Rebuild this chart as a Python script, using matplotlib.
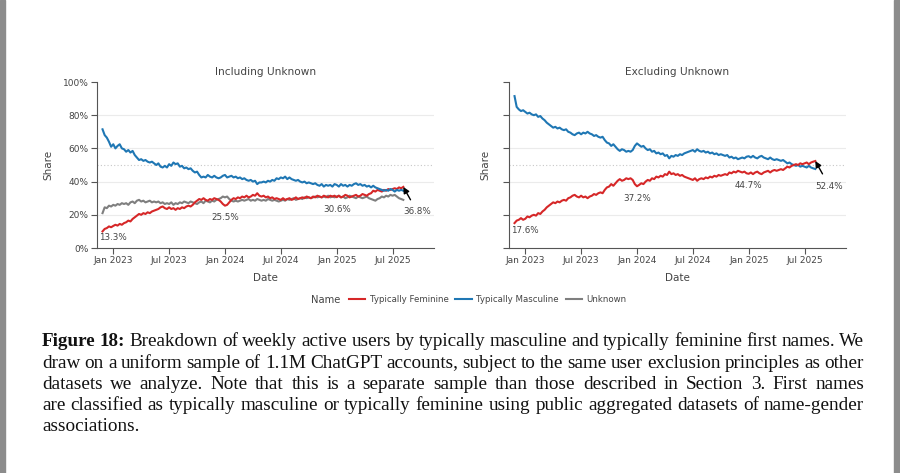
import matplotlib
matplotlib.use("Agg")
import matplotlib.pyplot as plt
import pandas as pd
from matplotlib.lines import Line2D
from matplotlib.patches import Rectangle

# ---------------- data ----------------
start_date = "2022-11-28"
n_weeks = 141

incl_feminine = [
    10.0, 11.5, 12.0, 13.0, 12.5, 13.3, 14.0, 13.5, 14.5, 14.0,
    15.0, 15.5, 16.5, 16.0, 17.5, 18.5, 19.5, 20.5, 20.0, 21.0,
    20.5, 21.5, 21.0, 22.0, 22.5, 23.0, 23.5, 24.5, 25.0, 24.0,
    23.5, 24.5, 23.5, 24.0, 23.0, 24.0, 23.5, 24.5, 24.0, 25.0,
    25.5, 25.0, 26.0, 27.5, 28.5, 29.5, 29.0, 30.0, 29.0, 28.5,
    29.5, 29.0, 30.0, 29.5, 29.0, 28.0, 26.5, 25.5, 26.0, 27.5,
    29.0, 30.0, 29.5, 30.5, 30.0, 31.0, 30.5, 31.5, 30.5, 31.0,
    32.0, 31.5, 33.0, 31.5, 31.0, 31.5, 30.5, 31.0, 30.0, 30.5,
    29.5, 30.0, 29.5, 29.0, 30.0, 29.0, 29.5, 30.0, 29.0, 29.5,
    30.5, 29.5, 30.0, 30.5, 30.0, 31.0, 30.5, 30.0, 31.0, 30.5,
    31.5, 31.0, 30.5, 31.5, 31.0, 30.5, 31.5, 31.0, 31.5, 30.6,
    31.5, 30.5, 31.0, 32.0, 31.5, 30.5, 31.0, 31.5, 32.0, 31.0,
    31.5, 32.5, 32.0, 31.5, 32.5, 33.0, 34.5, 34.0, 35.0, 34.5,
    34.0, 35.0, 34.5, 35.5, 35.0, 35.5, 36.0, 35.5, 36.5, 36.0,
    36.8,
]
incl_masculine = [
    71.5, 68.0, 66.5, 64.0, 61.0, 62.5, 60.0, 61.5, 62.5, 60.0,
    59.5, 58.0, 59.0, 57.5, 58.5, 56.0, 54.5, 53.0, 53.5, 52.5,
    53.0, 52.0, 51.5, 52.0, 51.0, 50.0, 51.0, 49.0, 48.5, 49.5,
    48.5, 50.5, 49.5, 51.5, 50.5, 51.0, 49.0, 49.5, 48.0, 48.5,
    47.5, 48.0, 46.5, 45.5, 46.0, 44.0, 42.5, 43.0, 42.5, 44.0,
    43.0, 42.5, 43.5, 42.5, 42.0, 42.5, 43.5, 44.0, 42.5, 43.0,
    43.5, 42.5, 43.0, 42.0, 42.5, 41.5, 42.0, 41.0, 40.5, 41.0,
    40.0, 40.5, 38.5, 39.5, 39.5, 40.0, 39.5, 40.5, 40.0, 41.0,
    40.5, 42.0, 41.5, 42.5, 42.0, 43.0, 41.5, 42.5, 41.5, 41.0,
    40.5, 41.0, 40.0, 39.5, 40.0, 39.0, 39.5, 39.0, 38.5, 39.0,
    38.0, 37.5, 38.5, 37.0, 38.0, 37.5, 38.0, 37.0, 38.5, 38.0,
    37.0, 38.5, 37.5, 38.0, 37.0, 38.0, 37.5, 38.5, 39.0, 38.0,
    38.5, 37.5, 38.0, 37.0, 37.5, 36.5, 37.5, 36.5, 36.0, 35.5,
    35.0, 34.5, 35.0, 34.5, 35.5, 35.0, 34.0, 35.0, 34.5, 35.0,
    34.5,
]
incl_unknown = [
    21.0, 24.5, 24.0, 25.5, 25.0, 26.0, 25.5, 26.5, 26.0, 27.0,
    26.5, 27.0, 26.0, 27.5, 28.0, 27.0, 28.5, 29.0, 28.0, 28.5,
    27.5, 28.0, 28.5, 27.5, 28.0, 27.5, 28.0, 27.0, 27.5, 26.5,
    27.0, 26.5, 27.5, 26.0, 27.0, 26.5, 27.5, 27.0, 28.0, 27.5,
    27.0, 28.0, 27.5, 27.0, 26.5, 27.5, 28.0, 27.0, 28.5, 28.0,
    27.5, 28.5, 28.0, 29.0, 29.5, 30.0, 31.0, 30.5, 31.0, 29.5,
    28.5, 28.0, 28.5, 28.0, 28.5, 29.0, 28.5, 29.0, 29.5, 28.5,
    29.0, 28.5, 29.5, 29.0, 28.5, 29.0, 28.5, 29.5, 29.0, 28.5,
    29.0, 28.5, 28.0, 28.5, 29.0, 28.5, 29.5, 29.0, 29.5, 30.0,
    29.0, 29.5, 30.0, 29.5, 30.5, 30.0, 30.5, 30.0, 30.5, 31.0,
    30.5, 31.0, 30.5, 31.0, 30.5, 31.5, 30.5, 31.0, 30.5, 31.0,
    31.5, 30.5, 31.0, 30.0, 30.5, 31.5, 31.0, 30.5, 30.0, 31.0,
    30.5, 30.0, 30.5, 31.0, 30.0, 29.5, 29.0, 28.5, 29.5, 30.0,
    31.0, 30.5, 31.5, 31.0, 32.0, 31.5, 32.0, 31.0, 30.0, 29.5,
    29.0,
]
excl_feminine = [
    15.0, 16.5, 17.0, 18.0, 17.0, 17.6, 19.0, 18.5, 19.5, 20.0,
    19.5, 21.0, 20.5, 22.0, 23.0, 24.5, 25.5, 26.5, 27.5, 27.0,
    28.0, 27.5, 28.5, 29.0, 28.5, 30.0, 30.5, 31.5, 32.0, 31.0,
    30.5, 31.5, 30.5, 31.0, 30.0, 31.0, 31.5, 32.5, 32.0, 33.0,
    33.5, 33.0, 35.0, 36.5, 37.0, 38.5, 37.5, 39.0, 40.5, 41.5,
    40.5, 41.0, 42.0, 41.5, 42.0, 41.0, 38.5, 37.2, 38.0, 39.0,
    38.5, 40.0, 41.0, 40.5, 42.0, 41.5, 43.0, 42.5, 43.5, 43.0,
    44.5, 44.0, 46.0, 44.5, 45.0, 44.0, 44.5, 43.5, 44.0, 43.0,
    42.5, 42.0, 41.5, 41.0, 42.0, 40.5, 41.5, 42.0, 41.5, 42.5,
    42.0, 43.0, 42.5, 43.5, 43.0, 44.0, 43.5, 44.0, 44.5, 44.0,
    45.5, 45.0, 46.0, 45.5, 46.5, 46.0, 45.5, 46.0, 45.0, 44.7,
    45.5, 44.5, 45.5, 46.0, 45.0, 44.5, 45.5, 46.0, 46.5, 45.5,
    46.5, 47.0, 46.5, 47.0, 47.5, 47.0, 48.0, 49.0, 48.5, 49.5,
    50.0, 50.5, 50.0, 51.0, 50.5, 51.0, 51.5, 50.5, 51.5, 52.0,
    52.4,
]
excl_masculine = [
    91.5, 85.0, 83.5, 82.5, 83.0, 82.0, 81.0, 81.5, 80.5, 80.0,
    80.5, 79.0, 79.5, 78.0, 77.0, 75.5, 74.5, 73.5, 72.5, 73.0,
    72.0, 72.5, 71.5, 71.0, 71.5, 70.0, 69.5, 68.5, 68.0, 69.0,
    69.5, 68.5, 69.5, 69.0, 70.0, 69.0, 68.5, 67.5, 68.0, 67.0,
    66.5, 67.0, 65.0, 63.5, 63.0, 61.5, 62.5, 61.0, 59.5, 58.5,
    59.5, 59.0, 58.0, 58.5, 58.0, 59.0, 61.5, 63.0, 62.0, 61.0,
    61.5, 60.0, 59.0, 59.5, 58.0, 58.5, 57.0, 57.5, 56.5, 57.0,
    55.5, 56.0, 54.0, 55.5, 55.0, 56.0, 55.5, 56.5, 56.0, 57.0,
    57.5, 58.0, 58.5, 59.0, 58.0, 59.5, 58.5, 58.0, 58.5, 57.5,
    58.0, 57.0, 57.5, 56.5, 57.0, 56.0, 56.5, 56.0, 55.5, 56.0,
    54.5, 55.0, 54.0, 54.5, 53.5, 54.0, 54.5, 54.0, 55.0, 55.3,
    54.5, 55.5, 54.5, 54.0, 55.0, 55.5, 54.5, 54.0, 53.5, 54.5,
    53.5, 53.0, 53.5, 53.0, 52.5, 53.0, 52.0, 51.0, 51.5, 50.5,
    50.0, 49.5, 50.0, 49.0, 49.5, 49.0, 48.5, 49.5, 48.5, 48.0,
    47.6,
]
label_idx = [5, 57, 109]  # labelled points (Jan of each year), plus last point with arrow

series_names = ["Typically Feminine", "Typically Masculine", "Unknown"]
panel_titles = ["Including Unknown", "Excluding Unknown"]
x_tick_labels = ["Jan 2023", "Jul 2023", "Jan 2024", "Jul 2024", "Jan 2025", "Jul 2025"]
x_tick_dates = ["2023-01-01", "2023-07-01", "2024-01-01", "2024-07-01", "2025-01-01", "2025-07-01"]
y_ticks = [0, 20, 40, 60, 80, 100]
y_tick_labels = ["0%", "20%", "40%", "60%", "80%", "100%"]

caption_lines = [
    "Breakdown of weekly active users by typically masculine and typically feminine first names. We",
    "draw on a uniform sample of 1.1M ChatGPT accounts, subject to the same user exclusion principles as other",
    "datasets we analyze.  Note that this is a separate sample than those described in Section 3.  First names",
    "are classified as typically masculine or typically feminine using public aggregated datasets of name-gender",
    "associations.",
]
caption_bold = "Figure 18:"

# ---------------- style ----------------
RED, BLUE, GRAY = "#d62728", "#1f77b4", "#7f7f7f"
TXT = "#444444"
W, H = 900, 473

dates = pd.date_range(start_date, periods=n_weeks, freq="7D")

fig = plt.figure(figsize=(W / 100, H / 100), dpi=100)
fig.patch.set_facecolor("white")

def px_axes(x0, x1, ytop, ybot):
    return [x0 / W, 1 - ybot / H, (x1 - x0) / W, (ybot - ytop) / H]

axL = fig.add_axes(px_axes(97, 434, 82, 248))
axR = fig.add_axes(px_axes(509, 846, 82, 248))

xmin, xmax = pd.Timestamp("2022-11-10"), pd.Timestamp("2025-11-12")

for ax, title, show_ylabels, ylab_dx in [(axL, panel_titles[0], True, 49), (axR, panel_titles[1], False, 24)]:
    ax.set_xlim(xmin, xmax)
    ax.set_ylim(0, 100)
    for s in ["top", "right"]:
        ax.spines[s].set_visible(False)
    for s in ["left", "bottom"]:
        ax.spines[s].set_color("#555555")
        ax.spines[s].set_linewidth(0.8)
    for yv in [20, 40, 60, 80]:
        ax.axhline(yv, color="#ebebeb", lw=0.8, zorder=0)
    ax.axhline(50, color="#c8c8c8", lw=0.8, ls=(0, (1, 2)), zorder=0)
    ax.set_xticks(pd.to_datetime(x_tick_dates))
    ax.set_xticklabels(x_tick_labels)
    ax.set_yticks(y_ticks)
    ax.set_yticklabels(y_tick_labels if show_ylabels else [""] * len(y_ticks))
    ax.tick_params(direction="out", length=4, width=0.8, color="#555555",
                   labelsize=6.5, labelcolor=TXT, pad=2)
    ax.set_title(title, fontsize=7.6, color=TXT, pad=5)
    ax_w = ax.get_position().width * W
    ax_h = ax.get_position().height * H
    ax.text(0.5, -30 / ax_h, "Date", transform=ax.transAxes, ha="center", va="center",
            fontsize=7.5, color=TXT)
    ax.text(-ylab_dx / ax_w, 0.5, "Share", transform=ax.transAxes, ha="center", va="center",
            rotation=90, fontsize=7.5, color=TXT)

lw = 1.5
axL.plot(dates, incl_feminine, color=RED, lw=lw, zorder=3)
axL.plot(dates, incl_masculine, color=BLUE, lw=lw, zorder=3)
axL.plot(dates, incl_unknown, color=GRAY, lw=lw, zorder=2)
axR.plot(dates, excl_feminine, color=RED, lw=lw, zorder=3)
axR.plot(dates, excl_masculine, color=BLUE, lw=lw, zorder=2)

def label_points(ax, values):
    for i in label_idx:
        ax.annotate(f"{values[i]:.1f}%", xy=(dates[i], values[i]), xytext=(0, -12 * 0.72),
                    textcoords="offset points", ha="center", va="center", fontsize=6.3,
                    color=TXT, zorder=5)
    last = len(values) - 1
    ax.annotate(f"{values[last]:.1f}%", xy=(dates[last], values[last]),
                xytext=(14 * 0.72, -25 * 0.72), textcoords="offset points",
                ha="center", va="center", fontsize=6.3, color=TXT, zorder=5,
                arrowprops=dict(arrowstyle="-|>", color="black", lw=1.0,
                                mutation_scale=9, shrinkA=4, shrinkB=0))

label_points(axL, incl_feminine)
label_points(axR, excl_feminine)

# legend
handles = [Line2D([], [], color=c, lw=1.5) for c in (RED, BLUE, GRAY)]
fig.legend(handles, series_names, loc="center left", bbox_to_anchor=(349 / W, 1 - 300 / H),
           ncol=3, frameon=False, fontsize=6.2, handlelength=1.9, handletextpad=0.5,
           columnspacing=0.8, labelcolor=TXT, borderpad=0, borderaxespad=0)
fig.text(311 / W, 1 - 300 / H, "Name", ha="left", va="center", fontsize=7.2, color=TXT)

# caption (justified)
cap_font = "Liberation Serif"
cap_size = 13.8
x_left, x_right = 42, 864
line_y = [342, 363, 384, 405, 426]
renderer = fig.canvas.get_renderer()

def place_line(tokens, y, justify):
    texts = []
    for w_, b in tokens:
        t = fig.text(0, 1 - y / H, w_, fontsize=cap_size, family=cap_font,
                     fontweight="bold" if b else "normal", va="center", ha="left", color="#111111")
        texts.append(t)
    widths = [t.get_window_extent(renderer).width for t in texts]
    total = sum(widths)
    if justify and len(texts) > 1:
        gap = (x_right - x_left - total) / (len(texts) - 1)
    else:
        gap = cap_size * 1.389 * 0.25
    x = x_left
    for t, wd in zip(texts, widths):
        t.set_x(x / W)
        x += wd + gap

for k, line in enumerate(caption_lines):
    tokens = [(w_, False) for w_ in line.split()]
    if k == 0:
        tokens = [(w_, True) for w_ in caption_bold.split()] + tokens
    place_line(tokens, line_y[k], justify=(k < len(caption_lines) - 1))

# page edges
fig.patches.append(Rectangle((0, 0), 5 / W, 1, transform=fig.transFigure, color="#8c8c8c", zorder=0))
fig.patches.append(Rectangle((894 / W, 0), 6 / W, 1, transform=fig.transFigure, color="#8c8c8c", zorder=0))

fig.savefig("out.png", dpi=100)
